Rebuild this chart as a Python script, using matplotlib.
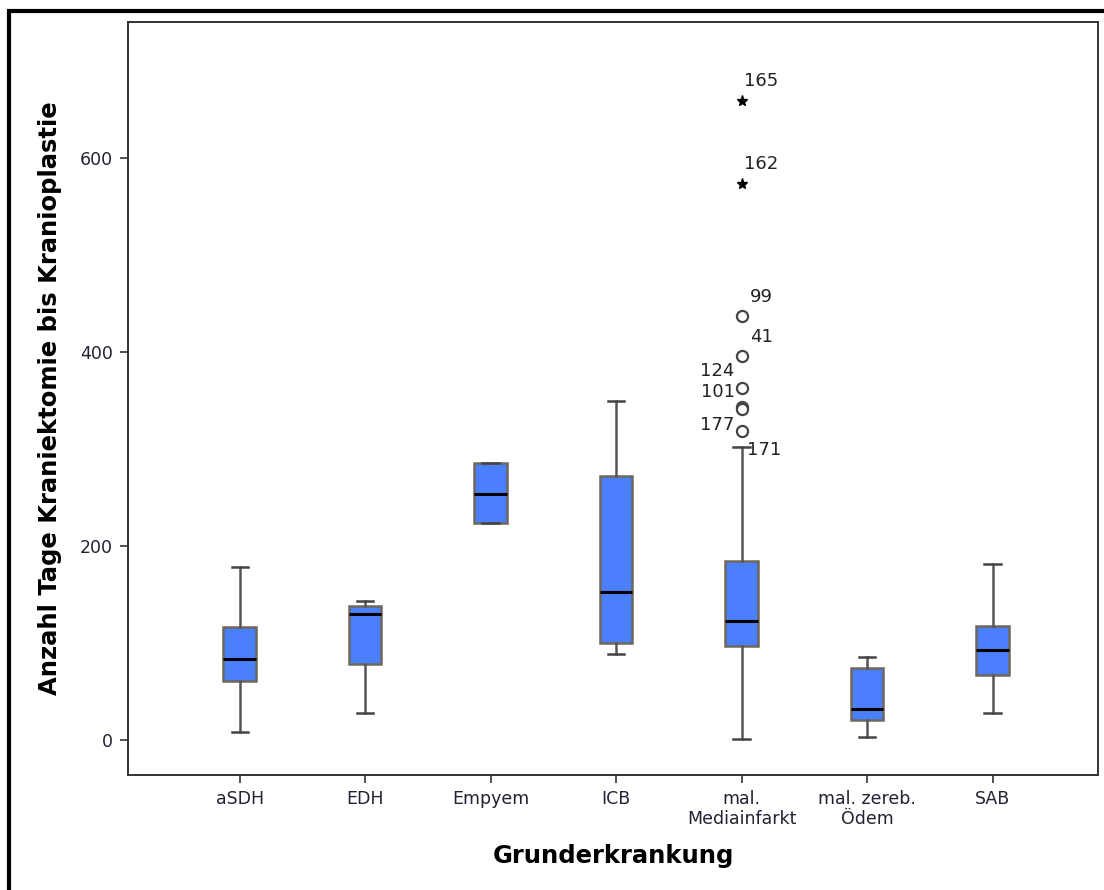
import numpy as np
import matplotlib
matplotlib.use('Agg')
import matplotlib.pyplot as plt
from matplotlib.patches import Rectangle

# Kategorien und Kennwerte der Boxplots
kategorien = ['aSDH', 'EDH', 'Empyem', 'ICB', 'mal.\nMediainfarkt',
              'mal. zereb.\nÖdem', 'SAB']
whisk_unten = [8, 28, 224, 89, 1, 3, 28]
q1 = [61, 78, 224, 100, 97, 21, 67]
median = [84, 130, 254, 153, 123, 32, 93]
q3 = [117, 138, 286, 272, 185, 74, 118]
whisk_oben = [178, 143, 286, 349, 302, 86, 181]

# Ausreisser (nur mal. Mediainfarkt)
kreis_werte = [437, 396, 363, 343, 341, 319]
kreis_ids = ['99', '41', '124', '101', '', '177']
stern_werte = [659, 573]
stern_ids = ['165', '162']
whisker_id = '171'

plt.rcParams['font.family'] = ['DejaVu Sans']

fig = plt.figure(figsize=(11.04, 8.90), dpi=100, facecolor='white')
ax = fig.add_axes([128/1104, 115/890, 970/1104, 753/890])

stats = []
for i in range(len(kategorien)):
    stats.append({'whislo': whisk_unten[i], 'q1': q1[i], 'med': median[i],
                  'q3': q3[i], 'whishi': whisk_oben[i], 'fliers': []})

pos = np.arange(1, len(kategorien) + 1)
ax.bxp(stats, positions=pos, widths=0.26, patch_artist=True, showfliers=False,
       boxprops=dict(facecolor='#4a80ff', edgecolor='#6e685c', linewidth=1.8),
       medianprops=dict(color='black', linewidth=2.2),
       whiskerprops=dict(color='#555555', linewidth=1.8),
       capprops=dict(color='#444444', linewidth=1.8))

# Ausreisser zeichnen
x_mal = pos[4]
ax.plot([x_mal] * len(kreis_werte), kreis_werte, 'o', markersize=8,
        markerfacecolor='white', markeredgecolor='#444444', markeredgewidth=1.6)
ax.plot([x_mal] * len(stern_werte), stern_werte, '*', markersize=8,
        color='black')

fs_nr = 13
for wert, nr in zip(stern_werte, stern_ids):
    ax.annotate(nr, (x_mal, wert), xytext=(2, 20), textcoords='offset pixels',
                ha='left', va='center', fontsize=fs_nr, color='#222222')

kreis_offsets = [(8, 19), (8, 19), (-7, 17), (-7, 15), (0, 0), (-7, 6)]
for wert, nr, off in zip(kreis_werte, kreis_ids, kreis_offsets):
    if nr == '':
        continue
    ax.annotate(nr, (x_mal, wert), xytext=off, textcoords='offset pixels',
                ha='left' if off[0] > 0 else 'right', va='center',
                fontsize=fs_nr, color='#222222')
ax.annotate(whisker_id, (x_mal, whisk_oben[4]), xytext=(5, -3),
            textcoords='offset pixels', ha='left', va='center',
            fontsize=fs_nr, color='#222222')

ax.set_xlim(0.11, 7.84)
ax.set_ylim(-36, 740)
ax.set_yticks([0, 200, 400, 600])
ax.set_xticks(pos)
ax.set_xticklabels(kategorien, linespacing=1.1)
ax.tick_params(axis='both', direction='out', length=6, width=1.3,
               color='#444444', labelsize=12.5, labelcolor='#222233', pad=5)
for s in ax.spines.values():
    s.set_linewidth(1.4)
    s.set_color('#333333')

ax.set_ylabel('Anzahl Tage Kraniektomie bis Kranioplastie', fontsize=17.5,
              fontweight='bold', labelpad=13)
ax.set_xlabel('Grunderkrankung', fontsize=17.5, fontweight='bold', labelpad=12)

# schwarzer Rahmen oben und links
fig.add_artist(Rectangle((9/1104, -0.1), 1.2, 0.1 + (890 - 11)/890,
                         transform=fig.transFigure, fill=False,
                         edgecolor='black', linewidth=3))

fig.savefig('out.png', dpi=100, facecolor='white')
